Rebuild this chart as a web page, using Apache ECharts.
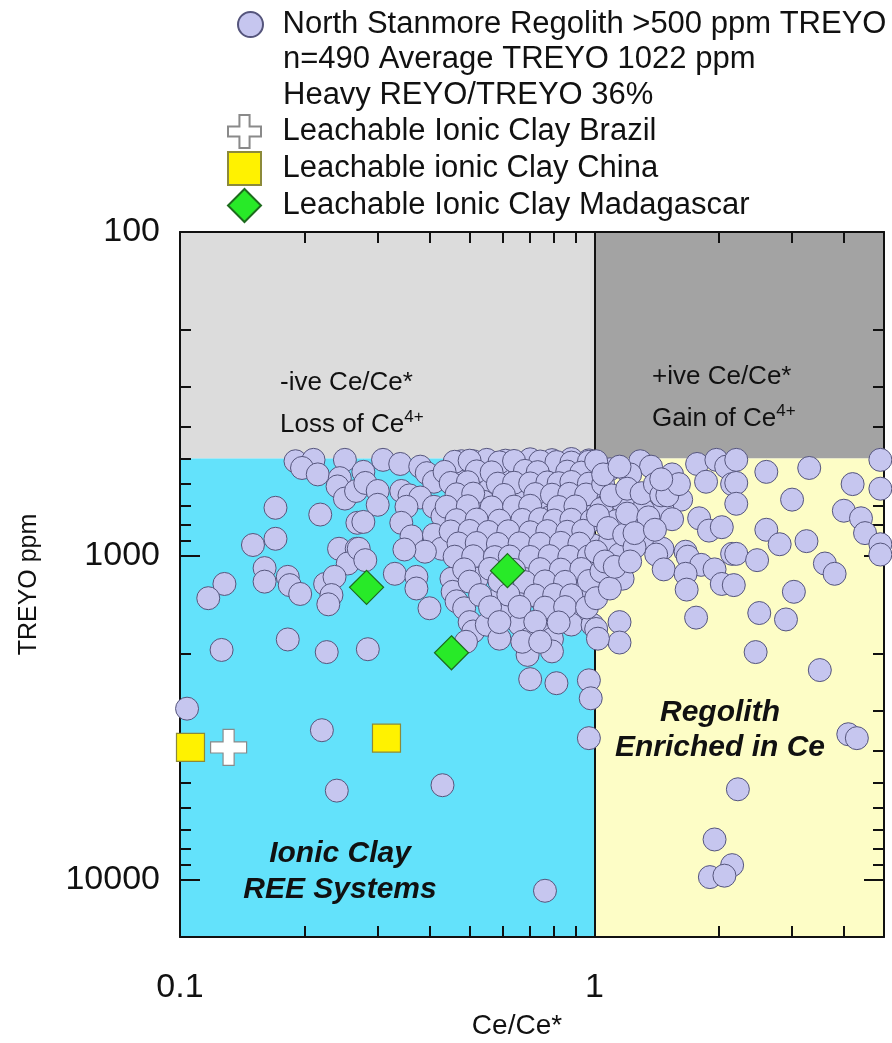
<!DOCTYPE html>
<html>
<head>
<meta charset="utf-8">
<script src="https://cdn.jsdelivr.net/npm/echarts@6/dist/echarts.min.js"></script>
<style>
  html, body { margin: 0; padding: 0; background: #ffffff; }
  #chart { width: 892px; height: 1043px; }
</style>
</head>
<body>
<div id="chart"></div>
<script>
// Axis extents and field boundaries (Ce/Ce* and TREYO ppm)
const xRange = [0.1, 5];
const yRange = [100, 15000];
const ceBoundary = 1;
const treyoCutoff = 500;

// Tick positions
const xMajorTicks = [0.1, 1];
const xMinorTicks = [0.2, 0.3, 0.4, 0.5, 0.6, 0.7, 0.8, 0.9, 2, 3, 4];
const yMajorTicks = [100, 1000, 10000];
const yMinorTicks = [200, 300, 400, 500, 600, 700, 800, 900, 2000, 3000, 4000, 5000, 6000, 7000, 8000, 9000];

// Series names
const regolithName = 'North Stanmore Regolith >500 ppm TREYO';
const regolithNotes = ['n=490 Average TREYO 1022 ppm', 'Heavy REYO/TREYO 36%'];
const brazilName = 'Leachable Ionic Clay Brazil';
const chinaName = 'Leachable ionic Clay China';
const madagascarName = 'Leachable Ionic Clay Madagascar';

// North Stanmore regolith samples: [Ce/Ce*, TREYO ppm]
const regolithLow = [
  [0.19,510],[0.21,505],[0.25,505],[0.197,535],[0.215,560],[0.243,575],[0.24,610],[0.25,665],
  [0.266,630],[0.17,710],[0.218,745],[0.268,790],[0.15,925],[0.17,885],[0.242,950],[0.267,950],
  [0.254,1055],[0.16,1090],[0.16,1200],[0.182,1160],[0.184,1230],[0.195,1310],[0.224,1220],
  [0.236,1160],[0.232,1320],[0.228,1410],[0.128,1220],[0.117,1350],[0.182,1810],[0.126,1950],
  [0.226,1980],
  [0.309,505],[0.34,520],[0.38,530],[0.394,555],[0.41,590],[0.277,550],[0.28,595],[0.3,630],
  [0.342,630],[0.358,650],[0.38,660],[0.41,705],[0.3,695],[0.352,705],[0.43,755],[0.277,785],
  [0.342,790],[0.362,870],[0.41,860],[0.428,950],[0.39,970],[0.348,955],[0.27,950],[0.28,1030],
  [0.33,1135],[0.372,1160],[0.372,1260],[0.4,1450],[0.452,1175],[0.455,1290],[0.465,1380],
  [0.485,1450],[0.5,1600],[0.51,1710],[0.478,510],[0.51,510],[0.478,590],[0.5,645],[0.485,730],
  [0.49,885],[0.5,970],[0.53,1065],[0.52,1175],[0.284,1940]
];
const regolithCore = [
  [0.55,505],[0.61,508],[0.7,503],[0.79,506],[0.88,502],[0.97,507],
  [0.53,560],[0.59,555],[0.66,565],[0.75,558],[0.84,562],[0.935,556],
  [0.56,620],[0.62,615],[0.71,625],[0.79,618],[0.88,622],[0.99,615],
  [0.54,680],[0.67,685],[0.75,676],[0.84,684],[0.935,678],
  [0.55,755],[0.61,750],[0.78,760],[0.87,752],[0.97,758],
  [0.58,830],[0.65,826],[0.74,835],[0.82,828],[0.92,832],
  [0.55,930],[0.62,925],[0.71,935],[0.79,928],[0.9,932],[0.99,926],
  [0.67,1020],[0.75,1015],[0.84,1025],[0.96,1018],
  [0.71,1115],[0.79,1110],[0.88,1120],[0.99,1112],
  [0.7,1230],[0.78,1225],[0.92,1235],
  [0.59,1350],[0.66,1345],[0.74,1355],[0.82,1348],[0.92,1352],
  [0.63,1480],[0.82,1475],[0.9,1485],
  [0.55,1630],[0.66,1625],[0.77,1635],[0.88,1628],[0.99,1632],
  [0.59,1800],[0.7,1795],[0.79,1805],
  [0.46,512],[0.5,508],[0.59,514],[0.64,509],[0.74,511],[0.81,513],[0.88,515],[0.97,512],
  [0.435,550],[0.52,548],[0.565,552],[0.68,546],[0.73,551],[0.86,549],[0.93,553],
  [0.45,595],[0.495,592],[0.585,598],[0.64,594],[0.7,597],[0.77,593],[0.82,596],[0.88,591],[0.97,598],
  [0.465,645],[0.51,642],[0.605,648],[0.72,644],[0.79,647],[0.87,643],[0.955,646],
  [0.44,705],[0.495,702],[0.565,708],[0.64,704],[0.7,700],[0.82,706],[0.9,703],
  [0.465,775],[0.52,772],[0.59,778],[0.67,774],[0.74,770],[0.8,777],[0.88,773],[0.985,776],
  [0.45,840],[0.5,837],[0.555,843],[0.62,839],[0.7,845],[0.77,838],[0.86,842],[0.94,836],
  [0.47,915],[0.52,912],[0.585,918],[0.66,914],[0.74,917],[0.83,911],[0.92,916],
  [0.46,1005],[0.51,1002],[0.575,1008],[0.625,1004],[0.7,1007],[0.78,1001],[0.87,1006],[0.97,1003],
  [0.485,1100],[0.56,1096],[0.64,1104],[0.74,1098],[0.83,1102],[0.93,1097],
  [0.5,1200],[0.59,1196],[0.68,1204],[0.76,1198],[0.85,1202],[0.97,1195],
  [0.53,1320],[0.62,1316],[0.72,1324],[0.8,1318],[0.88,1322],
  [0.56,1440],[0.66,1436],[0.76,1444],[0.85,1438],[0.96,1442],
  [0.59,1600],[0.72,1596],[0.82,1604]
];
const regolithTail = [
  [0.104,2960],[0.22,3450],[0.239,5300],[0.43,5100],[0.76,10800],[0.69,2020],[0.79,1970],
  [0.7,2400],[0.81,2470],[0.97,2420],[0.98,2750],[0.97,3650],[0.67,1840],[0.74,1840],[0.49,1840]
];
const regolithHigh = [
  [1.29,510],[1.37,530],[1.22,560],[1.09,540],[1.01,510],[1.54,560],[1.77,520],[1.97,505],
  [2.08,530],[2.15,600],[1.86,590],[1.62,670],[1.46,715],[1.31,720],[1.17,680],[1.04,715],
  [1.13,780],[1.28,800],[1.54,770],[1.79,765],[1.89,835],[2.03,815],[1.36,885],[1.46,950],
  [1.66,970],[1.41,990],[1.09,905],[1.01,970],[1.15,990],[1.68,1005],[1.81,1065],[1.95,1100],
  [1.47,1100],[1.66,1135],[2.15,985],[2.03,1220],[1.67,1270],[1.17,1175],[1.04,1115],
  [1.01,1350],[1.09,1260],[1.76,1550],[1.15,1600],[1.01,1680],[1.15,1850],[1.02,1800],
  [1.05,600],[1.1,650],[1.2,620],[1.02,750],[1.08,820],[1.18,860],[1.25,940],[1.06,1040],
  [1.12,1080],[1.22,1040],[1.3,640],[1.4,600],[1.45,650],[1.05,560],[1.15,530],
  [1.2,740],[1.35,760],[1.25,850],[1.4,830],[1.5,650],[1.6,600],[1.45,580],
  [2.2,505],[2.6,550],[3.3,535],[4.9,505],[2.2,595],[2.2,690],[4.2,600],[4.9,620],[3.0,670],
  [4.0,725],[4.4,765],[4.5,850],[4.9,920],[4.9,990],[2.6,830],[2.8,920],[3.25,900],[2.2,985],
  [2.47,1030],[3.6,1055],[3.8,1135],[2.17,1230],[3.03,1290],[2.5,1500],[2.9,1570],[2.45,1980],
  [3.5,2250],[4.1,3550],[4.3,3650],[2.22,5250],[1.95,7500],[2.15,9000],[1.9,9800],[2.06,9700]
];
const regolith = regolithLow.concat(regolithCore, regolithTail, regolithHigh);

// Leachable ionic clay references
const brazil = [[0.131, 3900]];
const china = [[0.106, 3900], [0.315, 3650]];
const madagascar = [[0.282, 1250], [0.452, 1990], [0.617, 1110]];

const FONT = '"Liberation Sans", Arial, Helvetica, sans-serif';
const INK = '#111111';
// outline symbols (path symbols keep their aspect inside legend boxes)
const crossPath = 'path://M9,0H17V9H26V17H17V26H9V17H0V9H9Z';
const squarePath = 'path://M0,0H10V10H0Z';
const diamondPath = 'path://M5,0L10,5L5,10L0,5Z';

function xAxisDef(position, ticks, tickLen, withLine, withLabels) {
  return {
    type: 'log', logBase: 10, min: xRange[0], max: xRange[1], position: position, z: 2,
    splitLine: { show: false }, minorTick: { show: false }, minorSplitLine: { show: false },
    axisLine: { show: withLine, lineStyle: { color: INK, width: 2 } },
    axisTick: { show: true, inside: true, length: tickLen, customValues: ticks, lineStyle: { color: INK, width: 2 } },
    axisLabel: withLabels ? {
      show: true, customValues: xMajorTicks, margin: 34, fontSize: 34, color: INK, fontFamily: FONT,
      formatter: v => String(+(+v).toPrecision(2))
    } : { show: false },
    name: withLabels ? 'Ce/Ce*' : '', nameLocation: 'middle', nameGap: 75,
    nameTextStyle: { fontSize: 28, color: INK, fontFamily: FONT, padding: [0, 30, 0, 0] }
  };
}
function yAxisDef(position, ticks, tickLen, withLine, withLabels) {
  return {
    type: 'log', logBase: 10, min: yRange[0], max: yRange[1], inverse: true, position: position, z: 2,
    splitLine: { show: false }, minorTick: { show: false }, minorSplitLine: { show: false },
    axisLine: { show: withLine, lineStyle: { color: INK, width: 2 } },
    axisTick: { show: true, inside: true, length: tickLen, customValues: ticks, lineStyle: { color: INK, width: 2 } },
    axisLabel: withLabels ? {
      show: true, customValues: yMajorTicks, margin: 20, fontSize: 34, color: INK, fontFamily: FONT,
      formatter: v => String(Math.round(v))
    } : { show: false },
    name: withLabels ? 'TREYO ppm' : '', nameLocation: 'middle', nameGap: 138, nameRotate: 90,
    nameTextStyle: { fontSize: 25, color: INK, fontFamily: FONT }
  };
}

const chart = echarts.init(document.getElementById('chart'), null, { renderer: 'canvas' });

chart.setOption({
  animation: false,
  backgroundColor: '#ffffff',
  grid: { left: 180, top: 232, right: 8, bottom: 106, containLabel: false, outerBoundsMode: 'none' },
  xAxis: [
    xAxisDef('bottom', xMajorTicks, 20, true, true),
    xAxisDef('bottom', xMinorTicks, 11, false, false),
    xAxisDef('top', xMajorTicks, 20, true, false),
    xAxisDef('top', xMinorTicks, 11, false, false)
  ],
  yAxis: [
    yAxisDef('left', yMajorTicks, 20, true, true),
    yAxisDef('left', yMinorTicks, 11, false, false),
    yAxisDef('right', yMajorTicks, 20, true, false),
    yAxisDef('right', yMinorTicks, 11, false, false)
  ],
  legend: [
    {
      // the legend box starts at the icon's visible left edge
      data: [regolithName], orient: 'vertical', left: 237, top: 9, padding: 0,
      itemWidth: 54, itemHeight: 25, selectedMode: false,
      textStyle: { fontSize: 31, color: INK, fontFamily: FONT, width: 560, overflow: 'none' }
    },
    {
      data: [brazilName, chinaName, madagascarName], orient: 'vertical', left: 227, top: 114, padding: 0,
      itemWidth: 66, itemHeight: 33, itemGap: 2, selectedMode: false,
      textStyle: { fontSize: 31, color: INK, fontFamily: FONT }
    }
  ],
  graphic: [
    { type: 'text', x: 283, y: 59, z: 10, style: { text: regolithNotes[0], fontSize: 31, fontFamily: FONT, fill: INK, verticalAlign: 'middle' } },
    { type: 'text', x: 283, y: 95, z: 10, style: { text: regolithNotes[1], fontSize: 31, fontFamily: FONT, fill: INK, verticalAlign: 'middle' } },
    { type: 'text', x: 280, y: 383, z: 10, style: { text: '-ive Ce/Ce*', fontSize: 26, fontFamily: FONT, fill: INK, verticalAlign: 'middle' } },
    { type: 'text', x: 280, y: 425, z: 10, style: { text: 'Loss of Ce{sup|4+}', fontSize: 26, fontFamily: FONT, fill: INK, verticalAlign: 'middle',
        rich: { sup: { fontSize: 17, fontFamily: FONT, fill: INK, padding: [0, 0, 16, 0] } } } },
    { type: 'text', x: 652, y: 377, z: 10, style: { text: '+ive Ce/Ce*', fontSize: 26, fontFamily: FONT, fill: INK, verticalAlign: 'middle' } },
    { type: 'text', x: 652, y: 419, z: 10, style: { text: 'Gain of Ce{sup|4+}', fontSize: 26, fontFamily: FONT, fill: INK, verticalAlign: 'middle',
        rich: { sup: { fontSize: 17, fontFamily: FONT, fill: INK, padding: [0, 0, 16, 0] } } } },
    { type: 'text', x: 720, y: 713, z: 10, style: { text: 'Regolith', fontSize: 30, fontWeight: 'bold', fontStyle: 'italic', fontFamily: FONT, fill: INK, align: 'center', verticalAlign: 'middle' } },
    { type: 'text', x: 720, y: 748, z: 10, style: { text: 'Enriched in Ce', fontSize: 30, fontWeight: 'bold', fontStyle: 'italic', fontFamily: FONT, fill: INK, align: 'center', verticalAlign: 'middle' } },
    { type: 'text', x: 340, y: 854, z: 10, style: { text: 'Ionic Clay', fontSize: 30, fontWeight: 'bold', fontStyle: 'italic', fontFamily: FONT, fill: INK, align: 'center', verticalAlign: 'middle' } },
    { type: 'text', x: 340, y: 890, z: 10, style: { text: 'REE Systems', fontSize: 30, fontWeight: 'bold', fontStyle: 'italic', fontFamily: FONT, fill: INK, align: 'center', verticalAlign: 'middle' } }
  ],
  series: [
    {
      // field shading and the Ce/Ce* = 1 divider
      type: 'scatter', name: 'fields', data: [], z: 0, silent: true,
      markArea: {
        silent: true, z: 0,
        data: [
          [{ xAxis: xRange[0], yAxis: yRange[0], itemStyle: { color: '#dcdcdc' } }, { xAxis: ceBoundary, yAxis: treyoCutoff }],
          [{ xAxis: ceBoundary, yAxis: yRange[0], itemStyle: { color: '#a3a3a3' } }, { xAxis: xRange[1], yAxis: treyoCutoff }],
          [{ xAxis: xRange[0], yAxis: treyoCutoff, itemStyle: { color: '#63e2fb' } }, { xAxis: ceBoundary, yAxis: yRange[1] }],
          [{ xAxis: ceBoundary, yAxis: treyoCutoff, itemStyle: { color: '#fdfdc6' } }, { xAxis: xRange[1], yAxis: yRange[1] }]
        ]
      },
      markLine: {
        silent: true, z: 1, symbol: ['none', 'none'], label: { show: false },
        lineStyle: { color: INK, width: 2, type: 'solid' },
        data: [{ xAxis: ceBoundary }]
      }
    },
    {
      type: 'scatter', name: regolithName, data: regolith, z: 3,
      symbol: 'circle', symbolSize: 23,
      itemStyle: { color: '#c6c6ef', borderColor: '#55557c', borderWidth: 1, opacity: 1 }
    },
    {
      type: 'scatter', name: brazilName, data: brazil, z: 4,
      symbol: crossPath, symbolSize: 36,
      itemStyle: { color: '#ffffff', borderColor: '#8a8a8a', borderWidth: 1.2, opacity: 1 }
    },
    {
      type: 'scatter', name: chinaName, data: china, z: 4,
      symbol: squarePath, symbolSize: 28,
      itemStyle: { color: '#fff200', borderColor: '#8c8a3a', borderWidth: 1.2, opacity: 1 }
    },
    {
      type: 'scatter', name: madagascarName, data: madagascar, z: 4,
      symbol: diamondPath, symbolSize: 34,
      itemStyle: { color: '#28ea28', borderColor: '#1d6b1d', borderWidth: 1.2, opacity: 1 }
    }
  ]
});
</script>
</body>
</html>
